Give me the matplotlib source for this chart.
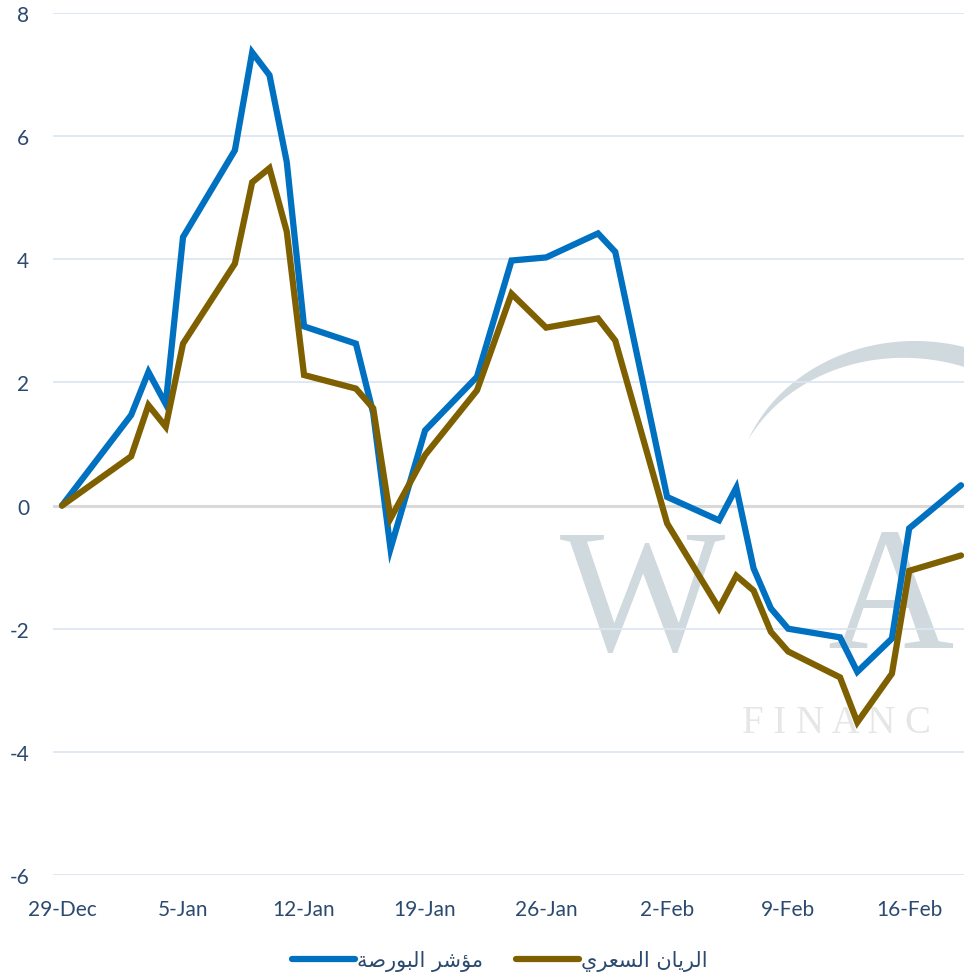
import matplotlib
matplotlib.use('Agg')
import matplotlib.pyplot as plt
import matplotlib.dates as mdates
from matplotlib.patches import Polygon
import numpy as np
import pandas as pd

# datos (dias de cotizacion)
dates = ['2022-12-29', '2023-01-02', '2023-01-03', '2023-01-04', '2023-01-05',
         '2023-01-08', '2023-01-09', '2023-01-10', '2023-01-11', '2023-01-12',
         '2023-01-15', '2023-01-16', '2023-01-17', '2023-01-19', '2023-01-22',
         '2023-01-24', '2023-01-26', '2023-01-29', '2023-01-30', '2023-02-02',
         '2023-02-05', '2023-02-06', '2023-02-07', '2023-02-08', '2023-02-09',
         '2023-02-12', '2023-02-13', '2023-02-15', '2023-02-16', '2023-02-19']

index_vals = [0, 1.47, 2.17, 1.65, 4.36, 5.77, 7.36, 6.99, 5.58, 2.91,
              2.63, 1.50, -0.70, 1.22, 2.09, 3.98, 4.03, 4.42, 4.12, 0.14,
              -0.24, 0.29, -1.02, -1.67, -2.00, -2.14, -2.70, -2.16, -0.37, 0.33]

rayan_vals = [0, 0.80, 1.63, 1.28, 2.63, 3.93, 5.25, 5.48, 4.45, 2.12,
              1.90, 1.58, -0.21, 0.82, 1.87, 3.44, 2.89, 3.04, 2.68, -0.29,
              -1.67, -1.14, -1.38, -2.05, -2.37, -2.79, -3.52, -2.73, -1.06, -0.81]

tick_dates = ['2022-12-29', '2023-01-05', '2023-01-12', '2023-01-19',
              '2023-01-26', '2023-02-02', '2023-02-09', '2023-02-16']
tick_labels = ['29-Dec', '5-Jan', '12-Jan', '19-Jan', '26-Jan', '2-Feb', '9-Feb', '16-Feb']
y_ticks = [8, 6, 4, 2, 0, -2, -4, -6]

# nombres de las series ("مؤشر البورصة" y "الريان السعري"), ya en formas
# de presentacion y orden visual porque matplotlib no une letras arabes
label_index = '\uFE94\uFEBB\uFEAD\uFEEE\uFE92\uFEDF\uFE8D \uFEAE\uFEB7\uFE86\uFEE3'
label_rayan = '\uFEF1\uFEAE\uFECC\uFEB4\uFEDF\uFE8D \uFEE5\uFE8E\uFEF3\uFEAE\uFEDF\uFE8D'

text_color = '#2B4A6F'
W, H = 964, 978

x = mdates.date2num(pd.to_datetime(dates))
x0 = mdates.date2num(pd.Timestamp(dates[0]))

fig = plt.figure(figsize=(W / 100, H / 100), dpi=100)
ax = fig.add_axes([53 / W, 1 - 876 / H, 1 - 53 / W, (876 - 14) / H])
ax.patch.set_alpha(0)


def fpx(px, py):
    return px / W, 1 - py / H


# marca de agua (aproximada)
wm = '#D0D9DE'
t = np.radians(np.linspace(158, -8, 120))
cx, cy, rx, ry = 915, 500, 180, 158
outer = [fpx(cx + rx * np.cos(a), cy - ry * np.sin(a)) for a in t]
thick = 20 * np.sin(np.linspace(0, 1, len(t)) * np.pi * 0.8)
inner = [fpx(cx + (rx - th) * np.cos(a), cy - (ry - th) * np.sin(a)) for a, th in zip(t, thick)]
arc = Polygon(outer + inner[::-1], closed=True, facecolor=wm, edgecolor='none',
              transform=fig.transFigure, zorder=0.5, clip_on=False)
ax.add_patch(arc)
ax.text(*fpx(642, 650), 'W', transform=fig.transFigure, fontsize=126,
        family='Liberation Serif', color=wm, ha='center', va='baseline', zorder=0.5)
ax.text(*fpx(890, 648), 'A', transform=fig.transFigure, fontsize=126,
        family='Liberation Serif', color=wm, ha='center', va='baseline', zorder=0.5)
ax.text(*fpx(742, 733), 'F I N A N C', transform=fig.transFigure, fontsize=28,
        family='Liberation Serif', color='#E6E6E6', ha='left', va='baseline', zorder=0.5)

# lineas
ax.plot(x, index_vals, color='#0070C0', lw=4.5, solid_joinstyle='miter',
        solid_capstyle='round', label=label_index, zorder=3)
ax.plot(x, rayan_vals, color='#7F6000', lw=4.5, solid_joinstyle='miter',
        solid_capstyle='round', label=label_rayan, zorder=3)

ax.set_ylim(-6, 8)
ax.set_xlim(x0 - 0.52, x0 + 52.17)
ax.set_yticks(y_ticks)
ax.set_yticklabels([str(v) for v in y_ticks])
ax.set_xticks(mdates.date2num(pd.to_datetime(tick_dates)))
ax.set_xticklabels(tick_labels)

for yv in y_ticks:
    if yv == 0:
        ax.axhline(0, color='#D9D9D9', lw=2.2, zorder=1)
    else:
        ax.axhline(yv, color='#DCE6F2', lw=1.3, zorder=1)

for s in ax.spines.values():
    s.set_visible(False)
ax.tick_params(length=0, labelcolor=text_color, labelsize=15)
ax.tick_params(axis='y', pad=17)
ax.tick_params(axis='x', pad=17)
for lab in ax.get_xticklabels() + ax.get_yticklabels():
    lab.set_family(['Lato', 'DejaVu Sans'])

leg = fig.legend(loc='center', bbox_to_anchor=(500 / W, 1 - 962 / H), ncol=2,
                 frameon=False, handlelength=3.0, handletextpad=0.1,
                 columnspacing=1.6, prop={'family': 'DejaVu Sans', 'size': 15})
for txt in leg.get_texts():
    txt.set_color(text_color)

plt.savefig('out.png', dpi=100)
